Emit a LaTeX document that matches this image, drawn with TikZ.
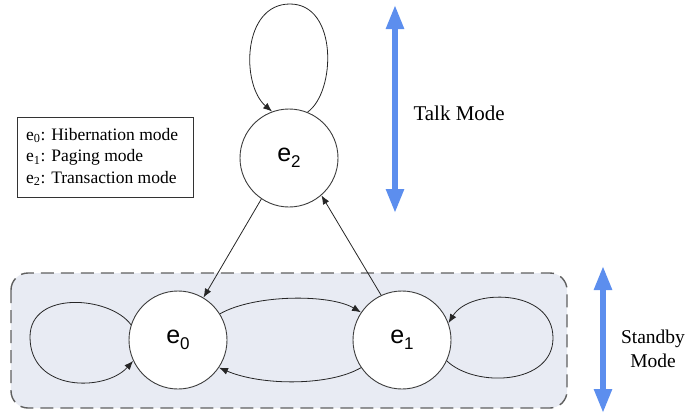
\documentclass[tikz,border=0pt]{standalone}
\usepackage{fontspec}
\setmainfont{Liberation Serif}
\newfontfamily\arialf{Liberation Sans}
\usetikzlibrary{arrows.meta}
\definecolor{modeblue}{RGB}{92,142,238}
\definecolor{boxfill}{RGB}{232,235,243}
\definecolor{boxline}{RGB}{95,95,95}
\definecolor{circline}{RGB}{60,60,60}
\newcommand{\stname}[1]{{\arialf\fontsize{25}{25}\selectfont e\raisebox{-0.22em}{\fontsize{17}{17}\selectfont #1}}}
\tikzset{
  state/.style={circle, draw=circline, line width=0.9pt, fill=white, minimum size=98pt, inner sep=0pt},
  trans/.style={draw=black!85, line width=0.8pt, -{Latex[length=9pt,width=7pt]}},
  modearrow/.style={draw=modeblue, line width=5.5pt, {Triangle[length=24pt,width=17pt]}-{Triangle[length=24pt,width=17pt]}},
  modetext/.style={font=\rmfamily\fontsize{21}{24}\selectfont, align=center},
}
\begin{document}
\begin{tikzpicture}[x=1pt,y=-1pt]
\useasboundingbox (0,0) rectangle (688,415);
% standby region
\draw[fill=boxfill, draw=boxline, line width=1.4pt, dash pattern=on 13pt off 7pt, rounded corners=17pt] (11,273) rectangle (567,408);
% legend
\node[draw=black!80, line width=0.9pt, minimum width=176pt, minimum height=80pt, inner sep=0pt] (legend) at (105,157) {};
\node[anchor=west, align=left, font=\fontsize{17.5}{21.5}\selectfont, inner sep=0pt] (legtext) at (26,157)
  {e\textsubscript{0}: Hibernation mode\\ e\textsubscript{1}: Paging mode\\ e\textsubscript{2}: Transaction mode};
% states
\node[state] (e2) at (289,158) {\stname{2}};
\node[state] (e0) at (178,340) {\stname{0}};
\node[state] (e1) at (402,340) {\stname{1}};
% self loops
\draw[trans] (e2.68) .. controls (336,92) and (338,4) .. (290,4) .. controls (242,4) and (241,85) .. (e2.110);
\draw[trans] (e0.162) .. controls (110,296) and (30,290) .. (30,337) .. controls (30,392) and (105,392) .. (e0.205);
\draw[trans] (e1.-25) .. controls (475,388) and (553,385) .. (553,338) .. controls (553,288) and (470,288) .. (e1.20);
% transitions between states
\draw[trans] (e0.32) .. controls (255,294) and (330,294) .. (e1.146);
\draw[trans] (e1.214) .. controls (330,386) and (262,386) .. (e0.-34);
\draw[trans] (e2.-124) -- (e0.59);
\draw[trans] (e1.115) -- (e2.-49);
% mode arrows
\coordinate (talktop) at (395,5);
\coordinate (talkbot) at (395,213);
\draw[modearrow] (talktop) -- (talkbot);
\node[modetext, anchor=west] (talk) at (410,113) {Talk Mode};
\coordinate (sbtop) at (603,266);
\coordinate (sbbot) at (603,413);
\draw[modearrow] (sbtop) -- (sbbot);
\node[modetext, font=\rmfamily\fontsize{19.5}{24}\selectfont] (standby) at (653,349) {Standby\\Mode};
\end{tikzpicture}
\end{document}
